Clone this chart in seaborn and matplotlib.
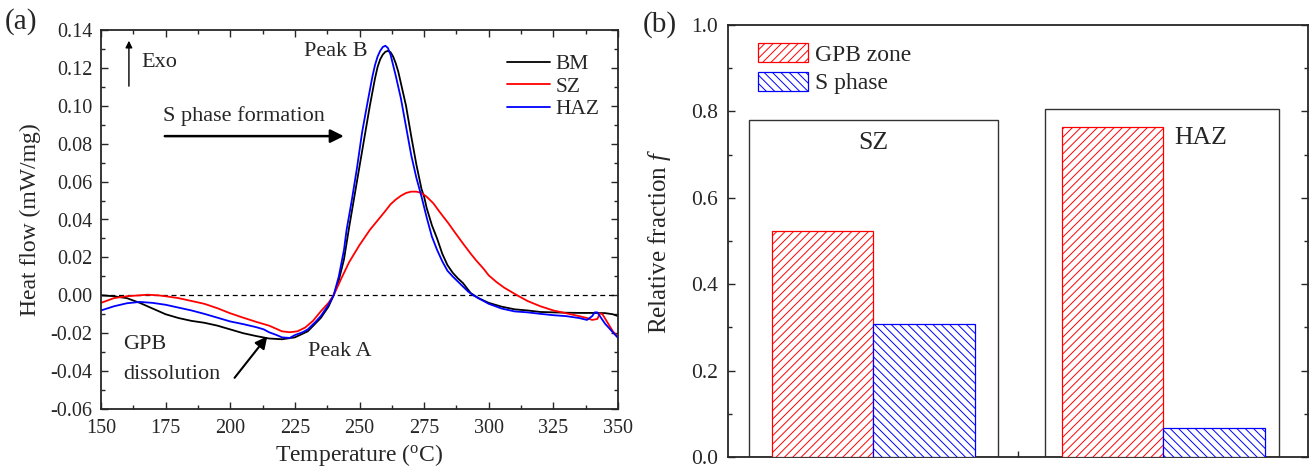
import matplotlib
matplotlib.use('Agg')

import numpy as np
import pandas as pd
import seaborn as sns
import matplotlib.pyplot as plt
import matplotlib.patches as mpatches
from matplotlib.ticker import MultipleLocator, FormatStrFormatter

# --- DSC curves ---
bm_t = [150, 155, 160, 165, 170, 175, 180, 185, 190, 195, 200, 205, 210, 215, 220, 225,
        230, 235, 238, 240, 242, 244, 246, 248, 250, 252, 254, 256, 257, 258, 259, 260,
        261, 262, 263, 264, 265, 266, 268, 270, 272, 274, 275, 276, 278, 280, 282, 284,
        286, 288, 290, 293, 296, 300, 305, 310, 315, 320, 325, 330, 335, 340, 345, 348, 350]
bm_q = [0.000, -0.0005, -0.0015, -0.004, -0.007, -0.010, -0.012, -0.0135, -0.0145, -0.016,
        -0.018, -0.0200, -0.0215, -0.0228, -0.0232, -0.0222, -0.019, -0.012, -0.006, 0.000,
        0.008, 0.019, 0.036, 0.052, 0.068, 0.084, 0.100, 0.1145, 0.1205, 0.1245, 0.127, 0.1285,
        0.129, 0.1283, 0.126, 0.1225, 0.118, 0.112, 0.100, 0.084, 0.069, 0.056, 0.052, 0.046,
        0.037, 0.030, 0.022, 0.016, 0.012, 0.009, 0.0065, 0.0012, -0.0015, -0.004, -0.006,
        -0.0074, -0.008, -0.0088, -0.009, -0.0092, -0.0093, -0.0093, -0.0094, -0.010, -0.011]

sz_t = [150, 155, 160, 165, 168, 172, 175, 180, 185, 190, 195, 200, 205, 210, 215, 218,
        220, 223, 226, 229, 232, 235, 238, 240, 243, 246, 250, 254, 257, 260, 262, 264,
        266, 268, 270, 272, 274, 276, 278.6, 281, 284.4, 287, 290, 293, 295, 298, 300, 303,
        306, 311, 315, 320, 325, 330, 335, 338, 340, 342, 343, 344, 346, 348, 350]
sz_q = [-0.004, -0.0015, -0.0005, 0.000, 0.0003, 0.000, -0.0005, -0.0015, -0.003, -0.0045,
        -0.0068, -0.0095, -0.0118, -0.014, -0.0160, -0.0178, -0.019, -0.0195, -0.019, -0.017,
        -0.0135, -0.0085, -0.004, 0.000, 0.009, 0.0175, 0.0265, 0.0345, 0.0395, 0.0445, 0.048,
        0.0505, 0.0525, 0.054, 0.0547, 0.0547, 0.054, 0.052, 0.0485, 0.044, 0.038, 0.033,
        0.0274, 0.022, 0.0186, 0.014, 0.0105, 0.007, 0.004, 0.000, -0.003, -0.0058, -0.008,
        -0.0095, -0.011, -0.012, -0.013, -0.0125, -0.0095, -0.010, -0.0145, -0.019, -0.022]

haz_t = [150, 155, 160, 165, 170, 175, 180, 185, 190, 195, 200, 205, 210, 213, 215, 218,
         220, 223, 225, 228, 230, 233, 235, 238, 240, 242, 244, 245, 247, 249, 251, 253,
         255, 256, 257, 258, 259, 260, 261, 262, 263, 264, 265, 266, 268, 270, 272, 274,
         276, 278, 280, 282, 284, 286, 289, 292, 294, 298, 300, 305, 310, 315, 320, 325,
         330, 335, 338, 340, 341, 342, 343, 345, 347, 350]
haz_q = [-0.008, -0.0058, -0.0042, -0.0035, -0.004, -0.005, -0.0065, -0.008, -0.0098, -0.0118,
         -0.0138, -0.0152, -0.0168, -0.018, -0.0195, -0.021, -0.0222, -0.0225, -0.021, -0.0195,
         -0.018, -0.014, -0.011, -0.005, 0.000, 0.010, 0.024, 0.0345, 0.050, 0.067, 0.086,
         0.101, 0.1155, 0.1215, 0.126, 0.129, 0.131, 0.1317, 0.1305, 0.127, 0.1215, 0.116,
         0.110, 0.104, 0.089, 0.074, 0.062, 0.052, 0.041, 0.031, 0.024, 0.018, 0.013, 0.010,
         0.006, 0.002, 0.000, -0.003, -0.0045, -0.007, -0.0085, -0.009, -0.0098, -0.0105,
         -0.011, -0.012, -0.013, -0.011, -0.009, -0.009, -0.011, -0.015, -0.018, -0.0225]

# --- relative fractions ---
regions = ['SZ', 'HAZ']
gpb_frac = [0.524, 0.763]
s_frac = [0.309, 0.066]
box_tops = [0.780, 0.806]

sns.set_style('ticks')
plt.rcParams['font.family'] = ['Liberation Serif', 'DejaVu Serif']
plt.rcParams['mathtext.fontset'] = 'custom'
plt.rcParams['mathtext.rm'] = 'Liberation Serif'
plt.rcParams['mathtext.it'] = 'Liberation Serif:italic'
plt.rcParams['axes.unicode_minus'] = False
plt.rcParams['hatch.linewidth'] = 0.7

fig = plt.figure(figsize=(13.09, 4.73), dpi=100)
ax1 = fig.add_axes([101 / 1309, 1 - 409 / 473, 517 / 1309, 379 / 473])
ax2 = fig.add_axes([728 / 1309, 1 - 457 / 473, 580 / 1309, 432 / 473])

# ---------- (a) DSC ----------
ax1.axhline(0, color='black', lw=0.9, ls=(0, (4, 3)), zorder=1)
for t, q, c, lab in [(bm_t, bm_q, 'black', 'BM'), (sz_t, sz_q, 'red', 'SZ'),
                     (haz_t, haz_q, 'blue', 'HAZ')]:
    sns.lineplot(x=t, y=q, ax=ax1, color=c, lw=1.3, label=lab, sort=False, estimator=None)

ax1.set_xlim(150, 350)
ax1.set_ylim(-0.06, 0.14)
ax1.xaxis.set_major_locator(MultipleLocator(25))
ax1.xaxis.set_minor_locator(MultipleLocator(12.5))
ax1.yaxis.set_major_locator(MultipleLocator(0.02))
ax1.yaxis.set_minor_locator(MultipleLocator(0.01))
ax1.yaxis.set_major_formatter(FormatStrFormatter('%.2f'))
ax1.tick_params(which='both', direction='in', top=True, right=True, labelsize=14.5, width=1)
ax1.tick_params(which='major', length=5)
ax1.tick_params(which='minor', length=3)
ax1.tick_params(axis='x', pad=7)
ax1.tick_params(axis='y', pad=6)
for s in ax1.spines.values():
    s.set_linewidth(1.3)
ax1.set_xlabel('Temperature ($^{\\rm o}$C)', fontsize=17, labelpad=3)
ax1.set_ylabel('Heat flow (mW/mg)', fontsize=17, labelpad=7)

ax1.legend(loc='upper left', bbox_to_anchor=(0.765, 0.965), frameon=False, fontsize=15.5,
           handlelength=2.0, handletextpad=0.25, labelspacing=0.12, borderpad=0)

ax1.annotate('', xy=(160.8, 0.1358), xytext=(160.8, 0.1089),
             arrowprops=dict(arrowstyle='-|>', color='black', lw=1, mutation_scale=10))
ax1.text(165.5, 0.1226, 'Exo', fontsize=16, va='center')
ax1.text(228.5, 0.1284, 'Peak B', fontsize=16, va='center')
ax1.text(174, 0.0945, 'S phase formation', fontsize=16, va='center')
ax1.annotate('', xy=(245, 0.084), xytext=(173.6, 0.084),
             arrowprops=dict(arrowstyle='-|>', color='black', lw=1.8, mutation_scale=20))
ax1.text(158.5, -0.0262, 'GPB', fontsize=16, va='center')
ax1.text(158.5, -0.0420, 'dissolution', fontsize=16, va='center')
ax1.annotate('', xy=(215, -0.0205), xytext=(201, -0.0447),
             arrowprops=dict(arrowstyle='-|>', color='black', lw=1.5, mutation_scale=18))
ax1.text(230, -0.0299, 'Peak A', fontsize=16, va='center')

# ---------- (b) fractions ----------
frac = pd.DataFrame({
    'region': regions * 2,
    'phase': ['GPB zone'] * len(regions) + ['S phase'] * len(regions),
    'value': gpb_frac + s_frac,
})
sns.barplot(data=frac, x='region', y='value', hue='phase', ax=ax2, width=0.7,
            legend=False, zorder=3)
styles = [('red', '////'), ('blue', '\\\\\\\\')]
for cont, (col, hat) in zip(ax2.containers, styles):
    for bar in cont:
        bar.set_facecolor('white')
        bar.set_edgecolor(col)
        bar.set_hatch(hat)
        bar.set_linewidth(0.9)

box_x = [(-0.428, 0.430), (0.592, 1.399)]
for (x0, x1), top in zip(box_x, box_tops):
    ax2.add_patch(mpatches.Rectangle((x0, 0), x1 - x0, top, fill=False,
                                     edgecolor='#333333', lw=1.0, zorder=2))
ax2.text(0.0, 0.727, 'SZ', fontsize=18.5, ha='center', va='center')
ax2.text(1.13, 0.738, 'HAZ', fontsize=18.5, ha='center', va='center')

ax2.set_xlim(-0.5, 1.5)
ax2.set_ylim(0, 1.0)
ax2.set_xticks([0, 0.5, 1])
ax2.set_xticklabels([])
ax2.set_xlabel('')
ax2.yaxis.set_major_locator(MultipleLocator(0.2))
ax2.yaxis.set_minor_locator(MultipleLocator(0.1))
ax2.yaxis.set_major_formatter(FormatStrFormatter('%.1f'))
ax2.tick_params(which='both', direction='in', right=True, labelsize=15.5, width=1)
ax2.tick_params(which='major', length=5)
ax2.tick_params(which='minor', length=3)
ax2.tick_params(axis='x', length=4)
ax2.tick_params(axis='y', pad=7)
for s in ax2.spines.values():
    s.set_linewidth(1.3)
ax2.set_ylabel('Relative fraction $\\it{f}$', fontsize=18, labelpad=13)

handles = [mpatches.Patch(facecolor='white', edgecolor='red', hatch='////', lw=0.9),
           mpatches.Patch(facecolor='white', edgecolor='blue', hatch='\\\\\\\\', lw=0.9)]
ax2.legend(handles, ['GPB zone', 'S phase'], loc='upper left', bbox_to_anchor=(0.032, 0.985),
           frameon=False, fontsize=17, handlelength=2.1, handleheight=0.85,
           handletextpad=0.3, labelspacing=0.25, borderpad=0)

fig.text(0.004, 1 - 22 / 473, '(a)', fontsize=21, va='center')
fig.text(643 / 1309, 1 - 25 / 473, '(b)', fontsize=21, va='center')

fig.savefig('out.png', dpi=100)
plt.close(fig)
